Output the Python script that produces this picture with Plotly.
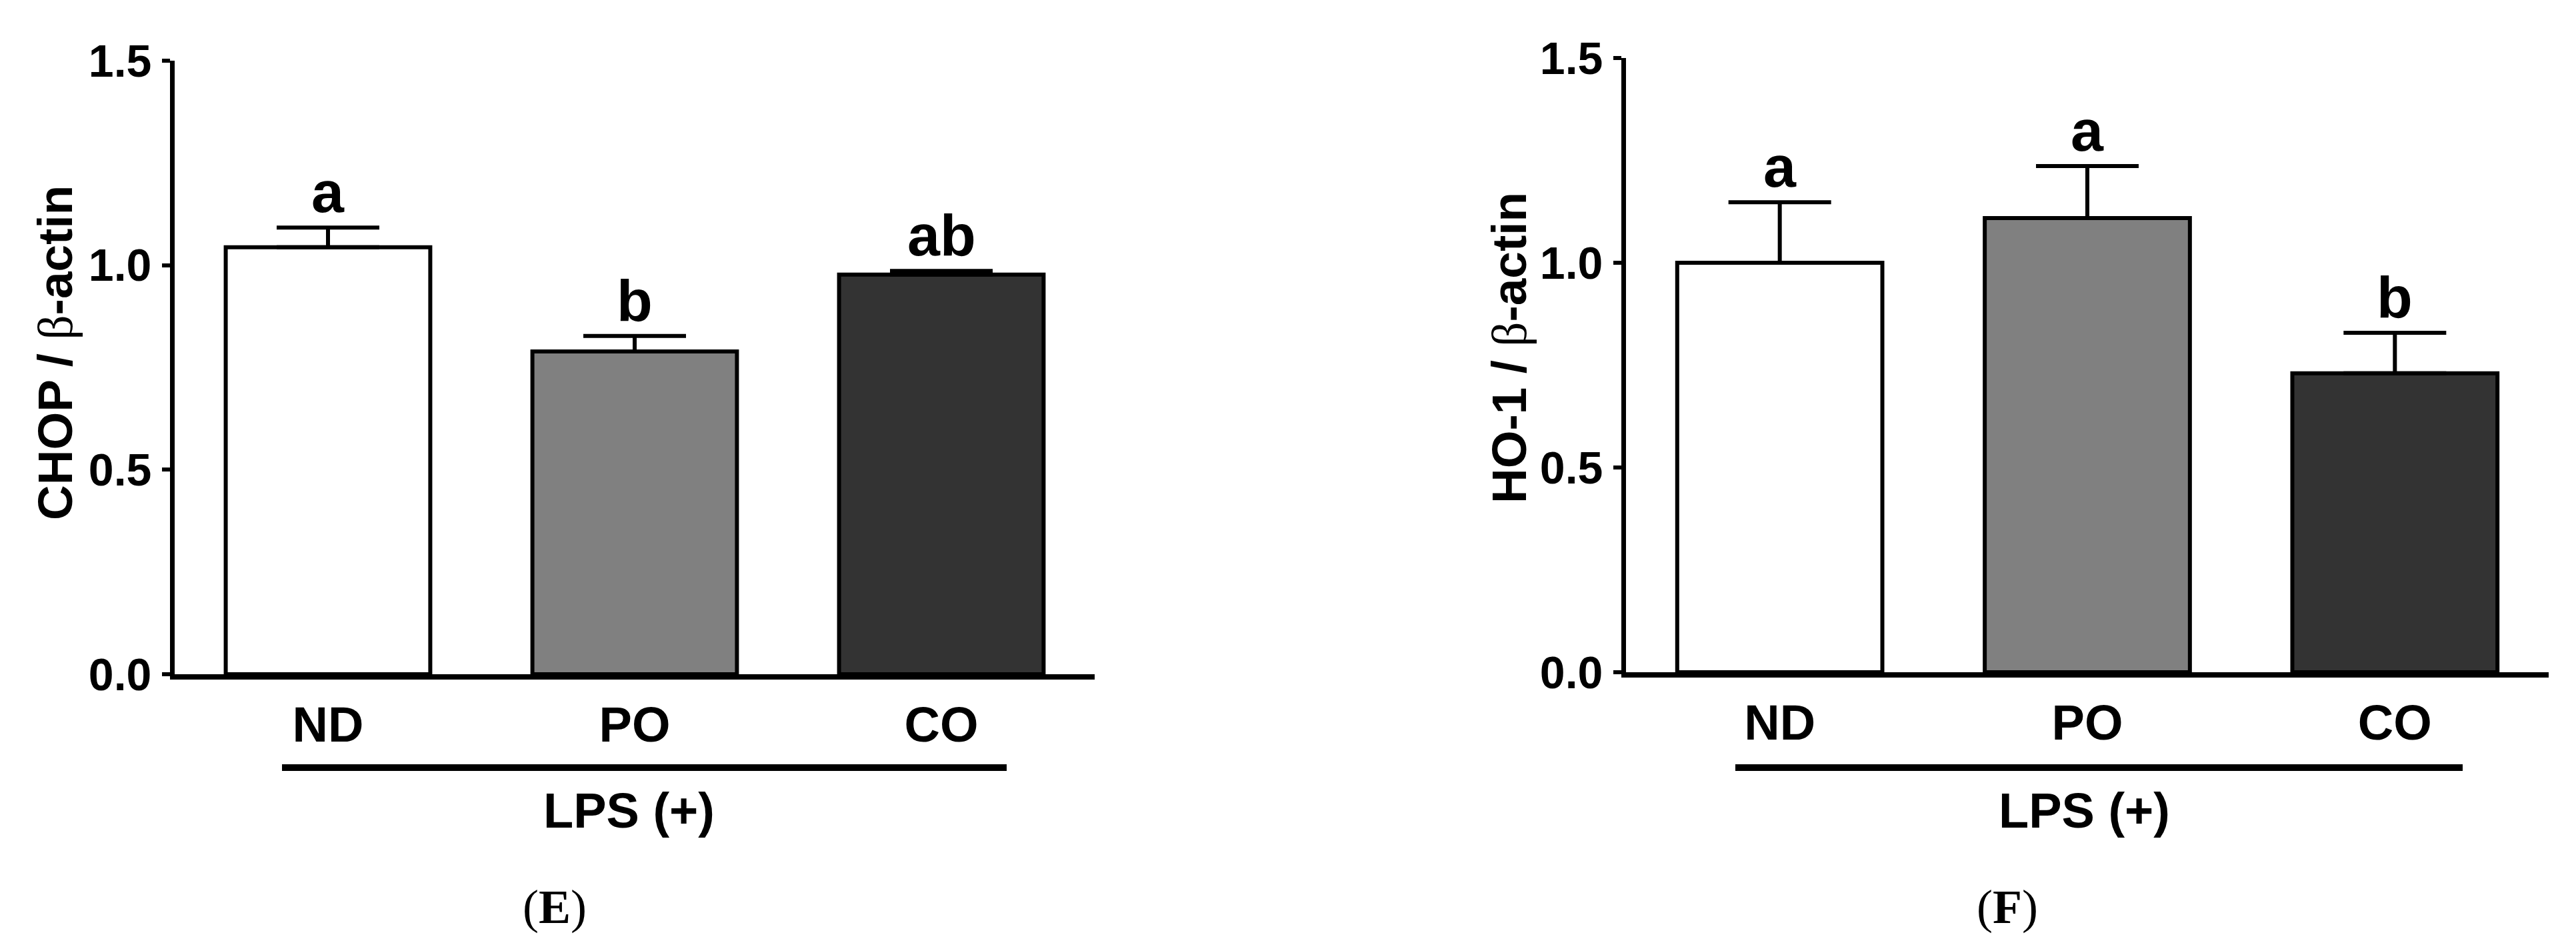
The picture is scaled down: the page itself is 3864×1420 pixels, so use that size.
import plotly.graph_objects as go

# ---- data ----
categories = ["ND", "PO", "CO"]
chop_mean = [1.044, 0.789, 0.977]
chop_err = [0.048, 0.038, 0.009]
chop_letters = ["a", "b", "ab"]
ho1_mean = [1.000, 1.109, 0.730]
ho1_err = [0.148, 0.127, 0.099]
ho1_letters = ["a", "a", "b"]
bar_colors = ["#ffffff", "#808080", "#333333"]
y_ticks = [0.0, 0.5, 1.0, 1.5]
group_label = "LPS (+)"
panel_labels = ["(E)", "(F)"]
y_titles = ["CHOP", "HO-1"]

W, H = 3864, 1420
FONT = "Arial, Liberation Sans, sans-serif"

fig = go.Figure()

panels = [
    dict(mean=chop_mean, err=chop_err, letters=chop_letters, xa="x", ya="y"),
    dict(mean=ho1_mean, err=ho1_err, letters=ho1_letters, xa="x2", ya="y2"),
]

for p in panels:
    fig.add_trace(go.Bar(
        x=categories, y=p["mean"], xaxis=p["xa"], yaxis=p["ya"],
        width=0.667,
        marker=dict(color=bar_colors, line=dict(color="black", width=6)),
        error_y=dict(type="data", array=p["err"], arrayminus=[0] * 3,
                     symmetric=False, color="black", thickness=6, width=77),
        showlegend=False,
    ))

def px_x(v):
    return v / W

def px_y(v):
    return 1 - v / H

xdoms = [[px_x(254), px_x(1634)], [px_x(2431), px_x(3815)]]
ydoms = [[px_y(1003), px_y(83)], [px_y(1000), px_y(79)]]

axis_common_x = dict(
    range=[-0.5, 2.5], showline=True, linecolor="black", linewidth=8,
    ticks="", showgrid=False, zeroline=False, type="category",
    tickfont=dict(family=FONT, size=74, color="black", weight="bold"),
    ticklabelstandoff=4, automargin=False,
)
axis_common_y = dict(
    range=[0, 1.5], showline=True, linecolor="black", linewidth=7,
    ticks="outside", ticklen=12, tickwidth=6, tickcolor="black",
    tickvals=y_ticks, tickformat=".1f", showgrid=False, zeroline=False,
    tickfont=dict(family=FONT, size=68, color="black", weight="bold"),
    ticklabelstandoff=2, automargin=False,
)

fig.update_layout(
    width=W, height=H, autosize=False,
    margin=dict(l=0, r=0, t=0, b=0, pad=0, autoexpand=False),
    paper_bgcolor="white", plot_bgcolor="white",
    bargap=0.33,
    xaxis=dict(domain=xdoms[0], anchor="y", **axis_common_x),
    yaxis=dict(domain=ydoms[0], anchor="x", **axis_common_y),
    xaxis2=dict(domain=xdoms[1], anchor="y2", **axis_common_x),
    yaxis2=dict(domain=ydoms[1], anchor="x2", **axis_common_y),
)

annotations = []
# significance letters
for p in panels:
    for c, m, e, l in zip(categories, p["mean"], p["err"], p["letters"]):
        annotations.append(dict(
            x=c, y=m + e, xref=p["xa"], yref=p["ya"], text=l, showarrow=False,
            yanchor="bottom", xanchor="center", yshift=2,
            font=dict(family=FONT, size=88, color="black", weight="bold"),
        ))

# y-axis titles
beta = '<span style="font-family:\'Liberation Serif\', \'Times New Roman\', serif;font-weight:normal">β</span>'
for name, xc, yc in zip(y_titles, [75, 2256], [521, 514]):
    annotations.append(dict(
        x=px_x(xc), y=px_y(yc), xref="paper", yref="paper",
        text=f"{name} / {beta}-actin", textangle=-90, showarrow=False,
        xanchor="center", yanchor="middle",
        font=dict(family=FONT, size=73, color="black", weight="bold"),
    ))

# group labels
for gx in [935, 3118]:
    annotations.append(dict(
        x=px_x(gx), y=px_y(1207), xref="paper", yref="paper", text=group_label,
        showarrow=False, xanchor="center", yanchor="middle",
        font=dict(family=FONT, size=74, color="black", weight="bold"),
    ))
# panel labels
for pl, plx in zip(panel_labels, [824, 3003]):
    annotations.append(dict(
        x=px_x(plx), y=px_y(1352), xref="paper", yref="paper",
        text=pl.replace(pl[1], f"<b>{pl[1]}</b>"), showarrow=False,
        xanchor="center", yanchor="middle",
        font=dict(family="Times New Roman, Liberation Serif, serif", size=72, color="black"),
    ))

fig.update_layout(annotations=annotations)

# underlines beneath category labels
shapes = []
for x0, x1 in [(415, 1502), (2595, 3686)]:
    shapes.append(dict(
        type="line", xref="paper", yref="paper",
        x0=px_x(x0), x1=px_x(x1), y0=px_y(1143), y1=px_y(1143),
        line=dict(color="black", width=10),
    ))
fig.update_layout(shapes=shapes)

fig.write_html("out.html")
